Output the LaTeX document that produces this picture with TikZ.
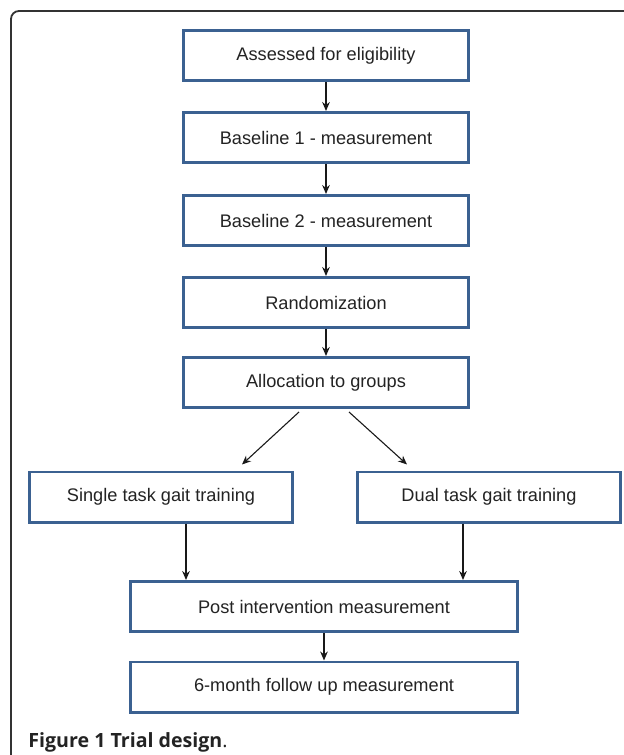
\documentclass[tikz,border=0pt]{standalone}
\usepackage{fontspec}
\setmainfont{Liberation Sans}
\newfontfamily\capfont{Open Sans}
\usetikzlibrary{arrows.meta,positioning}
\definecolor{boxblue}{RGB}{59,97,145}
\definecolor{txtgray}{RGB}{35,35,35}
\tikzset{
    stage/.style={draw=boxblue, line width=1.3pt, fill=white, text=txtgray,
        minimum height=25.2pt, inner sep=0pt, font=\fontsize{9.1}{11}\selectfont},
    flow/.style={-{Stealth[length=4.5pt,width=3.8pt]}, line width=0.55pt, black!90}
}

\begin{document}
\begin{tikzpicture}[
    x=0.5pt, y=-0.5pt
]
\useasboundingbox (0,0) rectangle (624,755);

% Frame
\draw[line width=0.9pt, black!80, rounded corners=4pt] (11,755) -- (11,11) -- (624,11);

% Main column
\node[stage, minimum width=142.7pt] (assess) at (326,55.5) {Assessed for eligibility};
\node[stage, minimum width=142.7pt] (base1) at (326,137.5) {Baseline 1 - measurement};
\node[stage, minimum width=142.7pt] (base2) at (326,220.5) {Baseline 2 - measurement};
\node[stage, minimum width=142.7pt] (random) at (326,302.5) {Randomization};
\node[stage, minimum width=142.7pt] (alloc) at (326,382.5) {Allocation to groups};

% The two arms
\node[stage, minimum width=131.7pt] (single) at (161,497) {Single task gait training};
\node[stage, minimum width=131.7pt] (dual) at (489,497) {Dual task gait training};

% After the intervention
\node[stage, minimum width=193.7pt] (post) at (324,606.5) {Post intervention measurement};
\node[stage, minimum width=193.7pt] (follow) at (324,687) {6-month follow up measurement};

% Arrows down the main column
\draw[flow] (assess) -- (base1);
\draw[flow] (base1) -- (base2);
\draw[flow] (base2) -- (random);
\draw[flow] (random) -- (alloc);

% Split into the arms
\draw[flow] ([xshift=-13.5pt, yshift=-1.5pt]alloc.south) -- ([xshift=40.5pt, yshift=3pt]single.north);
\draw[flow] ([xshift=11.5pt, yshift=-1.5pt]alloc.south) -- ([xshift=-41pt, yshift=3pt]dual.north);

% Arms join again
\coordinate (sOut) at ([xshift=12.5pt]single.south);
\coordinate (dOut) at ([xshift=-13pt]dual.south);
\draw[flow] (sOut) -- (sOut |- post.north);
\draw[flow] (dOut) -- (dOut |- post.north);
\draw[flow] (post) -- (follow);

% Caption
\node[anchor=base west, inner sep=0pt, text=txtgray, font=\capfont\fontsize{9.8}{12}\selectfont]
    (caption) at (28,747) {\textbf{Figure 1 Trial design}.};

\end{tikzpicture}
\end{document}
